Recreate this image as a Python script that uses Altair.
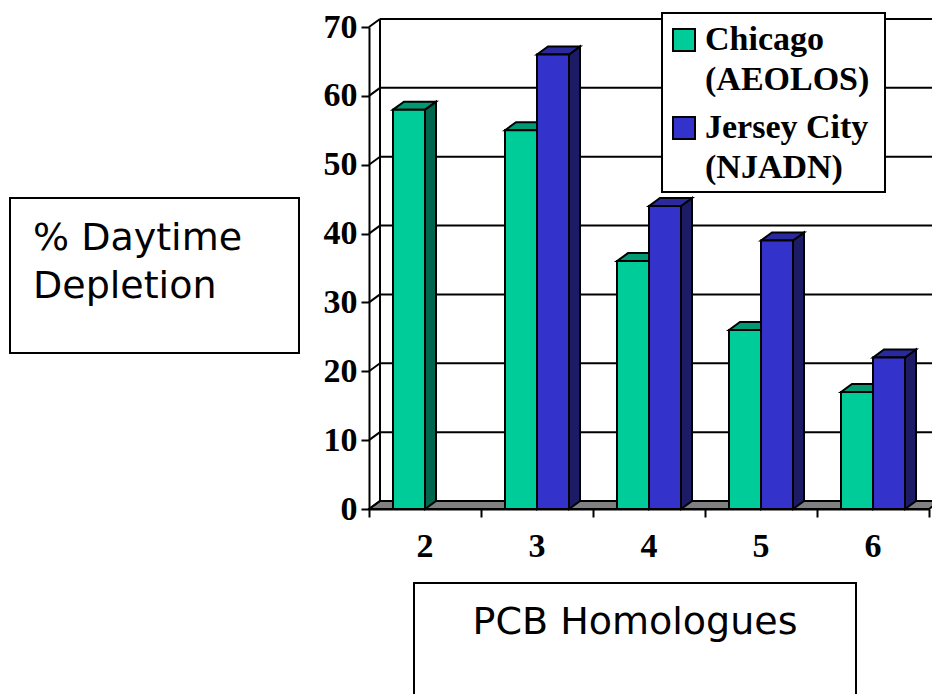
import altair as alt
import pandas as pd

# ---- data -------------------------------------------------------------
categories = ["2", "3", "4", "5", "6"]          # PCB homologue groups
chicago = [58, 55, 36, 26, 17]                   # Chicago (AEOLOS)
jersey_city = [None, 66, 44, 39, 22]             # Jersey City (NJADN)
series_labels = ["Chicago\n(AEOLOS)", "Jersey City\n(NJADN)"]
y_ticks = [0, 10, 20, 30, 40, 50, 60, 70]

# ---- styling / geometry ----------------------------------------------
front_colors = ["#00CC99", "#3333CC"]
top_colors = ["#009973", "#2A2A9E"]
side_colors = ["#00664D", "#1C1C66"]
SERIF = "Liberation Serif"
SANS = "DejaVu Sans"
W, H = 560, 482                      # plot area (front plane)
X0 = float(categories[0]) - 0.5
X1 = float(categories[-1]) + 0.5
Y_MAX = 70
BAR_W = 32 / (W / (X1 - X0))         # bar width in category units
DX = 11 / (W / (X1 - X0))            # depth shift (x) in category units
DY = 8 * Y_MAX / H                   # depth shift (y) in value units
LINE = 2

boundaries = [float(c) - 0.5 for c in categories] + [X1]

x_scale = alt.Scale(domain=[X0, X1], nice=False, zero=False)
y_scale = alt.Scale(domain=[0, Y_MAX], nice=False, zero=False)

x_axis = alt.Axis(
    values=boundaries, labels=False, title=None, grid=False,
    domainColor="black", domainWidth=LINE, tickColor="black",
    tickWidth=LINE, tickSize=8)
y_axis = alt.Axis(
    values=y_ticks, title=None, grid=False, format="d",
    domainColor="black", domainWidth=LINE, tickColor="black",
    tickWidth=LINE, tickSize=8, labelFont=SERIF, labelFontSize=34,
    labelFontWeight="bold", labelColor="black", labelPadding=4,
    labelBaseline="middle")


def X(field, **kw):
    return alt.X(field, scale=x_scale, axis=x_axis, **kw)


def Y(field, **kw):
    return alt.Y(field, scale=y_scale, axis=y_axis, **kw)


# ---- 3-D bar geometry built from the values ----------------------------
fronts, faces = [], []
for k, values in enumerate([chicago, jersey_city]):
    for cat, v in zip(categories, values):
        if v is None:
            continue
        c = float(cat)
        xl = c - BAR_W if k == 0 else c
        xr = xl + BAR_W
        fronts.append(dict(series=k, x=xl, x2=xr, y=0, y2=v, col=front_colors[k]))
        side = [(xr, v, 0), (xr + DX, v + DY, DY)]
        top = [(xl, v, v), (xl + DX, v + DY, v), (xr, v + DY, v), (xr + DX, v + DY, v + DY)]
        for face, pts, col in (("side", side, side_colors[k]), ("top", top, top_colors[k])):
            for i, (px, py, py2) in enumerate(pts):
                faces.append(dict(series=k, key=f"{k}-{cat}-{face}", pt=i,
                                  x=px, y=py, y2=py2, col=col))
fronts = pd.DataFrame(fronts)
faces = pd.DataFrame(faces)

# floor of the 3-D box
floor = pd.DataFrame({
    "x": [X0, X0 + DX, X1, X1 + DX],
    "y": [0, DY, DY, DY],
    "y2": [0, 0, 0, DY],
})

ticks_df = pd.DataFrame({"v": y_ticks})
ticks_df["x"] = X0
ticks_df["x2"] = X0 + DX
ticks_df["xr"] = X1 + DX + 0.3
ticks_df["vb"] = ticks_df["v"] + DY

cat_df = pd.DataFrame({"cat": categories, "x": [float(c) for c in categories]})

one = pd.DataFrame({"_": [0]})

# ---- layers -------------------------------------------------------------
floor_layer = alt.Chart(floor).mark_area(
    color="#808080", stroke="black", strokeWidth=LINE, orient="vertical"
).encode(x=X("x:Q"), y=Y("y:Q", stack=None), y2="y2:Q")

grid_layer = alt.Chart(ticks_df).transform_filter("datum.v > 0").mark_rule(
    color="black", strokeWidth=LINE
).encode(x=X("x2:Q"), x2="xr:Q", y=Y("vb:Q"))

back_axis = alt.Chart(one).transform_calculate(
    x=f"{X0 + DX}", y0=f"{DY}", y1=f"{Y_MAX + DY}"
).mark_rule(color="black", strokeWidth=LINE).encode(
    x=X("x:Q"), y=Y("y0:Q"), y2="y1:Q")

wall_layer = alt.Chart(ticks_df).mark_rule(color="black", strokeWidth=LINE).encode(
    x=X("x:Q"), x2="x2:Q", y=Y("v:Q"), y2="vb:Q")


def series_layers(k):
    face_layer = alt.Chart(faces).transform_filter(f"datum.series == {k}").mark_area(
        stroke="black", strokeWidth=LINE, orient="vertical", strokeJoin="miter"
    ).encode(
        x=X("x:Q"), y=Y("y:Q", stack=None), y2="y2:Q",
        fill=alt.Fill("col:N", scale=None), detail="key:N",
    )
    front_layer = alt.Chart(fronts).transform_filter(f"datum.series == {k}").mark_rect(
        stroke="black", strokeWidth=LINE
    ).encode(
        x=X("x:Q"), x2="x2:Q", y=Y("y:Q"), y2="y2:Q",
        fill=alt.Fill("col:N", scale=None),
    )
    return [face_layer, front_layer]


cat_labels = alt.Chart(cat_df).mark_text(
    font=SERIF, fontSize=34, fontWeight="bold", color="black", baseline="alphabetic"
).encode(x=X("x:Q"), y=alt.value(530), text="cat:N")


def box(x, x2, y, y2):
    return alt.Chart(one).mark_rect(fill="white", stroke="black", strokeWidth=LINE).encode(
        x=alt.value(x), x2=alt.value(x2), y=alt.value(y), y2=alt.value(y2))


# legend
legend = [box(293, 516, -14, 165)]
for k, label in enumerate(series_labels):
    top = 2 + 88 * k
    legend.append(alt.Chart(one).mark_rect(
        fill=front_colors[k], stroke="black", strokeWidth=LINE).encode(
        x=alt.value(304), x2=alt.value(326), y=alt.value(top), y2=alt.value(top + 22)))
    legend.append(alt.Chart(one).mark_text(
        text=label, lineBreak="\n", lineHeight=40, font=SERIF, fontSize=34,
        fontWeight="bold", color="black", align="left", baseline="alphabetic").encode(
        x=alt.value(336), y=alt.value(23 + 88 * k)))

# axis title boxes
y_title = [
    box(-359, -70, 171, 326),
    alt.Chart(one).mark_text(
        text="% Daytime\nDepletion", lineBreak="\n", lineHeight=48, font=SANS,
        fontSize=38, color="black", align="left", baseline="alphabetic").encode(
        x=alt.value(-336), y=alt.value(223)),
]
x_title = [
    box(45, 487, 556, 720),
    alt.Chart(one).mark_text(
        text="PCB Homologues", font=SANS, fontSize=38, color="black",
        align="center", baseline="alphabetic").encode(
        x=alt.value(266), y=alt.value(607)),
]

chart = alt.layer(
    floor_layer, grid_layer, back_axis, wall_layer,
    *series_layers(0), *series_layers(1),
    cat_labels, *legend, *y_title, *x_title,
).properties(
    width=W, height=H,
    autosize=alt.AutoSizeParams(type="none"),
    padding={"left": 369, "top": 27, "right": 3, "bottom": 185},
    background="white",
).configure_view(stroke=None)

chart.save("out.html", embed_options={"renderer": "svg", "actions": False})
